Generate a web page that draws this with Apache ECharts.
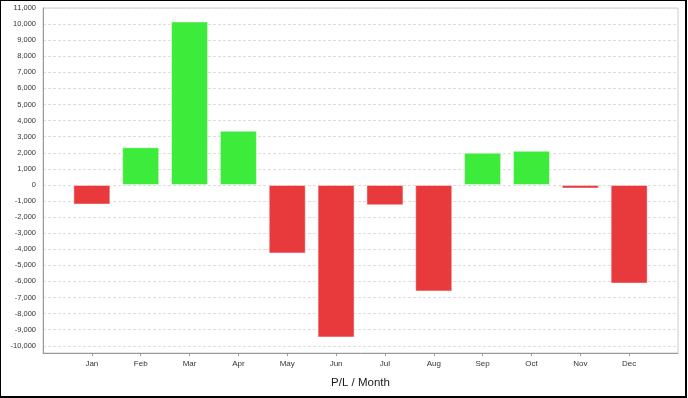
<!DOCTYPE html>
<html>
<head>
<meta charset="utf-8">
<script src="https://cdn.jsdelivr.net/npm/echarts@6/dist/echarts.min.js"></script>
<style>
  html, body { margin: 0; padding: 0; background: #fff; }
  #frame { position: absolute; left: 0; top: 0; width: 687px; height: 398px; box-sizing: border-box;
           border-style: solid; border-color: #000; border-width: 1px 2px 2px 1px; }
  #chart { position: absolute; left: 0; top: 0; width: 688px; height: 398px; }
</style>
</head>
<body>
<div id="chart"></div>
<div id="frame"></div>
<script>
const months = ['Jan', 'Feb', 'Mar', 'Apr', 'May', 'Jun', 'Jul', 'Aug', 'Sep', 'Oct', 'Nov', 'Dec'];
const profitLoss = [-1220, 2340, 10160, 3370, -4260, -9480, -1260, -6620, 2000, 2120, -220, -6130];
const yMin = -10450;
const yMax = 11000;
const yStep = 1000;
const xTitle = 'P/L / Month';

const categories = [''].concat(months, ['']);
const values = [null].concat(profitLoss, [null]);

const chart = echarts.init(document.getElementById('chart'), null, { renderer: 'canvas' });
chart.setOption({
  animation: false,
  backgroundColor: '#fff',
  textStyle: { fontFamily: '"Liberation Sans", Arial, sans-serif' },
  grid: { left: 43, right: 10, top: 8, bottom: 45, show: true, borderColor: '#cccccc', borderWidth: 1 },
  xAxis: {
    type: 'category',
    data: categories,
    boundaryGap: false,
    name: xTitle,
    nameLocation: 'middle',
    nameGap: 24,
    nameTextStyle: { fontSize: 11.5, color: '#1a1a1a' },
    axisLine: { onZero: false, lineStyle: { color: '#9a9a9a', width: 1 } },
    axisTick: { show: true, length: 3, interval: (i, v) => v !== '', lineStyle: { color: '#9a9a9a' } },
    axisLabel: { fontSize: 8, color: '#333', margin: 7, interval: 0 },
    splitLine: { show: false }
  },
  yAxis: {
    type: 'value',
    min: yMin,
    max: yMax,
    minInterval: yStep,
    maxInterval: yStep,
    splitNumber: 21,
    axisLine: { show: true, lineStyle: { color: '#9a9a9a', width: 1 } },
    axisTick: { show: false },
    axisLabel: {
      fontSize: 7.5, color: '#333', margin: 7, showMinLabel: false,
      formatter: v => Number(v).toLocaleString('en-US')
    },
    splitLine: { show: true, lineStyle: { color: '#dddddd', type: [3, 2], width: 1 } }
  },
  series: [{
    type: 'bar',
    data: values,
    barWidth: 37,
    itemStyle: {
      color: p => (p.value >= 0 ? '#3deb3a' : '#e8393d'),
      borderColor: 'rgba(255,255,255,0.45)',
      borderWidth: 1
    }
  }]
});
</script>
</body>
</html>
